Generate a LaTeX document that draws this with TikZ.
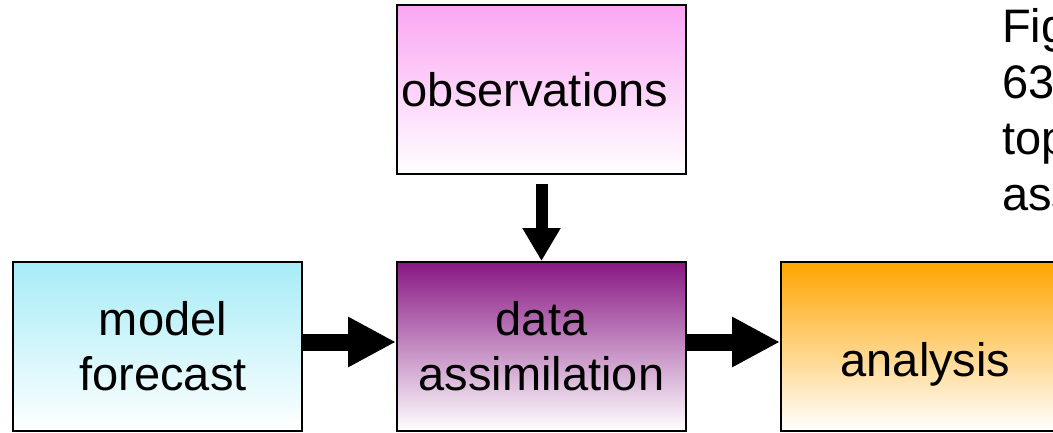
\documentclass[tikz,border=0pt]{standalone}
\usepackage{fontspec}
\setmainfont{Liberation Sans}
\usetikzlibrary{arrows.meta,shadings}
\definecolor{cyanTop}{RGB}{166,236,246}
\definecolor{purpleTop}{RGB}{136,24,132}
\definecolor{pinkTop}{RGB}{250,166,243}
\definecolor{orangeTop}{RGB}{255,165,0}
\newcommand\boxfs{\fontsize{47}{55}\selectfont}
\newcommand\figfs{\fontsize{47}{56}\selectfont}
\begin{document}
\begin{tikzpicture}[x=1pt,y=-1pt,
  box/.style={draw=black, line width=2pt, minimum width=289pt, minimum height=169pt,
    inner sep=0pt, align=center, font=\boxfs, text=black},
  blockarrow/.style={draw=black, line width=17pt, -{Triangle[length=48pt,width=47pt]}},
  downarrow/.style={draw=black, line width=12pt, -{Triangle[length=33pt,width=36pt]}},
  figtext/.style={inner sep=0pt, align=left, font=\figfs, text=black}]
\useasboundingbox (0,0) rectangle (1053,432);
\clip (0,0) rectangle (1053,432);
\fill[white] (0,0) rectangle (1053,432);

\node[box, top color=cyanTop, bottom color=white] (mf) at (157.5,346.5)
  {\hspace*{11pt}model\\\hspace*{11pt}forecast};
\node[box, top color=purpleTop, bottom color=white] (da) at (541.5,346.5)
  {data\\assimilation};
\node[box, top color=pinkTop, bottom color=white] (obs) at (541.5,89.5)
  {observations\hspace*{13pt}};
\node[box, top color=orangeTop, bottom color=white, text height=59pt, text depth=0pt] (an) at (925.5,346.5)
  {analysis};

\node[figtext, anchor=north west] (fig) at (1002,8.3) {Fig\\63\\top\\ass};

\draw[blockarrow] ([yshift=4.5pt]mf.east) -- ([yshift=4.5pt]da.west);
\draw[blockarrow] ([yshift=4.5pt]da.east) -- ([yshift=4.5pt]an.west);
\draw[downarrow] ([yshift=-9pt]obs.south) -- (da.north);
\end{tikzpicture}
\end{document}
